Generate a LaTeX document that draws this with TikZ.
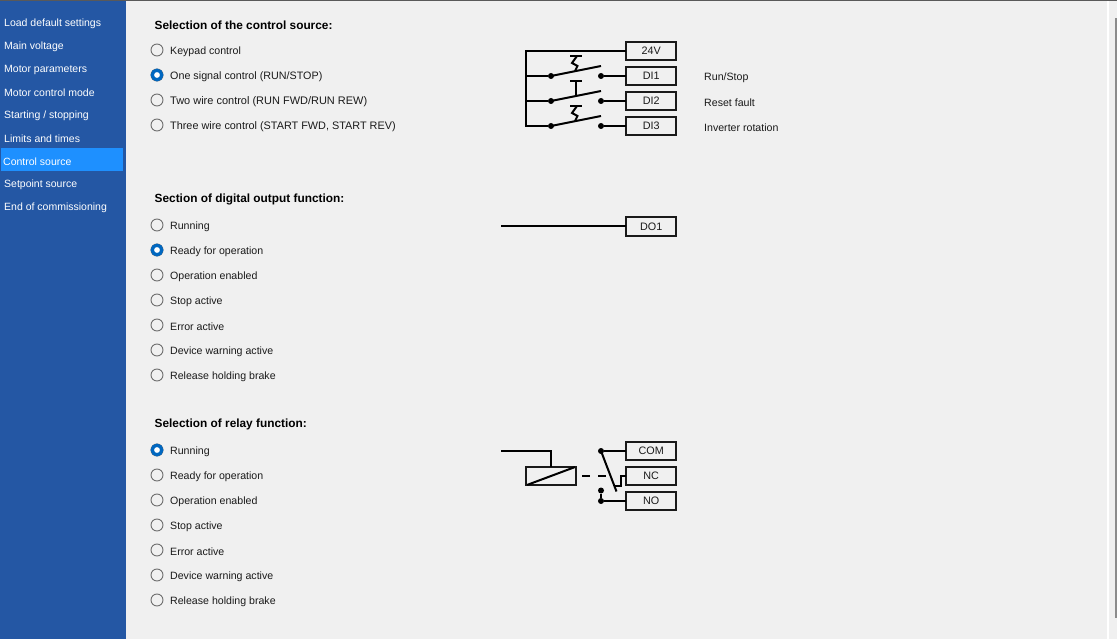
\documentclass[tikz,border=0pt]{standalone}
\usepackage{fontspec}
\setmainfont{Liberation Sans}
\definecolor{panel}{HTML}{F0F0F0}
\definecolor{side}{HTML}{2457A4}
\definecolor{sel}{HTML}{1E90FF}
\definecolor{accent}{HTML}{0067C0}
\definecolor{ink}{HTML}{1A1A1A}
\definecolor{circ}{HTML}{6E6E6E}
\newcommand{\fsz}[1]{\fontsize{#1}{12}\selectfont}
\tikzset{
 x=1pt,y=-1pt,
 menu/.style={anchor=west,inner sep=0pt,text=white,font=\fsz{10.5}},
 opt/.style={anchor=west,inner sep=0pt,text=ink,font=\fsz{10.6}},
 head/.style={anchor=west,inner sep=0pt,text=black,font=\fsz{11.85}\bfseries},
 radio/.style={circle,draw=circ,fill=panel,line width=0.9pt,minimum size=12pt,inner sep=0pt},
 radiook/.style={circle,draw=accent,fill=white,line width=3.2pt,minimum size=9.5pt,inner sep=0pt},
 term/.style={draw=ink,line width=2pt,minimum width=49.5pt,minimum height=18.5pt,inner sep=0pt,outer sep=0pt,fill=panel,text=ink,font=\fsz{10.8}},
 wire/.style={draw=black,line width=2pt},
 dot/.style={circle,fill=black,minimum size=6pt,inner sep=0pt},
}
\begin{document}
\begin{tikzpicture}
\useasboundingbox (0,0) rectangle (1117,639);
\fill[panel] (0,0) rectangle (1117,639);
\fill[side] (0,0) rectangle (126,639);
\fill[black!65] (0,0) rectangle (1117,1);
\fill[sel] (1,148) rectangle (123,171);
\fill[white] (1107,1) rectangle (1108.5,639);
\fill[black!45] (1115,18) rectangle (1117,618);
% menu
\foreach \y/\t [count=\i] in {23.5/{Load default settings},46.5/{Main voltage},69.5/{Motor parameters},92.5/{Motor control mode},115.5/{Starting / stopping},138.5/{Limits and times},184.5/{Setpoint source},207.5/{End of commissioning}}
  \node[menu] (menu\i) at (4,\y) {\t};
\node[menu] (menusel) at (3,161.5) {Control source};
% headings
\node[head] (h1) at (154.5,25) {Selection of the control source:};
\node[head] (h2) at (154.5,199) {Section of digital output function:};
\node[head] (h3) at (154.5,424) {Selection of relay function:};
% options
\foreach \y/\t/\s [count=\i] in {51.5/{Keypad control}/10.6,76.5/{One signal control (RUN/STOP)}/10.75,101.5/{Two wire control (RUN FWD/RUN REW)}/10.98,126.5/{Three wire control (START FWD, START REV)}/10.86}{
  \node[opt,font=\fsz{\s}] (a\i) at (170,\y) {\t};
  \node[radio] (ra\i) at (157,\y-1.5) {};}
\foreach \y/\t [count=\i] in {226.5/{Running},251.5/{Ready for operation},276.5/{Operation enabled},301.5/{Stop active},326.5/{Error active},351.5/{Device warning active},376.5/{Release holding brake}}{
  \node[opt] (b\i) at (170,\y) {\t};
  \node[radio] (rb\i) at (157,\y-1.5) {};}
\foreach \y/\t [count=\i] in {451.5/{Running},476.5/{Ready for operation},501.5/{Operation enabled},526.5/{Stop active},551.5/{Error active},576.5/{Device warning active},601.5/{Release holding brake}}{
  \node[opt] (c\i) at (170,\y) {\t};
  \node[radio] (rc\i) at (157,\y-1.5) {};}
\node[radiook] at (ra2) {};
\node[radiook] at (rb2) {};
\node[radiook] at (rc1) {};
% right labels
\node[opt] (l1) at (704,78) {Run/Stop};
\node[opt] (l2) at (704,103) {Reset fault};
\node[opt] (l3) at (704,128) {Inverter rotation};
% terminals
\node[term] (v24) at (651.2,51) {\raisebox{-1pt}{24V}};
\node[term] (di1) at (651.2,76) {\raisebox{-1pt}{DI1}};
\node[term] (di2) at (651.2,101) {\raisebox{-1pt}{DI2}};
\node[term] (di3) at (651.2,126) {\raisebox{-1pt}{DI3}};
\node[term] (do1) at (651.2,226.5) {\raisebox{-1pt}{DO1}};
\node[term] (com) at (651.2,451) {\raisebox{-1pt}{COM}};
\node[term] (nc) at (651.2,476) {\raisebox{-1pt}{NC}};
\node[term] (no) at (651.2,501) {\raisebox{-1pt}{NO}};
% control switches
\coordinate (bus1) at (526,51);
\coordinate (bus4) at (526,127);
\draw[wire,line join=miter] (v24.west) -- (bus1) -- (bus4);
\foreach \n/\y in {1/76,2/101,3/126}{
  \node[dot] (p\n) at (551,\y) {};
  \node[dot] (q\n) at (601,\y) {};
  \coordinate (b\n) at (526,\y);
  \coordinate (t\n) at (601,\y-10);
  \draw[wire] (b\n) -- (p\n);
  \draw[wire] (p\n.center) -- (t\n);
  \draw[wire] (q\n) -- (di\n.west);
}
% actuators
\draw[wire] (570,56) -- (582,56);
\draw[wire] (577,56) -- (572,63) -- (577.5,66) -- (575,71);
\draw[wire] (570,81) -- (582,81) (576,81) -- (576,96);
\draw[wire] (570,106) -- (582,106);
\draw[wire] (577,106) -- (572,113) -- (577.5,116) -- (575,121);
% DO1
\coordinate (do0) at (501,226.5);
\draw[wire] (do0) -- (do1.west);
% relay
\coordinate (r0) at (501,451);
\coordinate (r1) at (551,451);
\node[draw=ink,line width=2pt,minimum width=49.5pt,minimum height=18.5pt,inner sep=0pt,outer sep=0pt] (coil) at (551,476) {};
\draw[wire] (r0) -- (r1) -- (coil.north);
\draw[wire,shorten <=1pt,shorten >=1pt] (coil.south west) -- (coil.north east);
\node[dot] (cm) at (601,451) {};
\node[dot] (na) at (601,490.5) {};
\node[dot] (nb) at (601,501) {};
\coordinate (tip) at (616.5,491.5);
\draw[wire] (cm) -- (com.west);
\draw[wire] (cm.center) -- (tip);
\draw[wire] (na) -- (nb) -- (no.west);
\coordinate (nc1) at (621,476);
\coordinate (nc2) at (621,486);
\coordinate (nc3) at (615,486);
\draw[wire] (nc.west) -- (nc1) -- (nc2) -- (nc3);
\coordinate (d1) at (582,476);
\coordinate (d2) at (606,476);
\draw[wire,dash pattern=on 8pt off 8pt] (d1) -- (d2);
\end{tikzpicture}
\end{document}
